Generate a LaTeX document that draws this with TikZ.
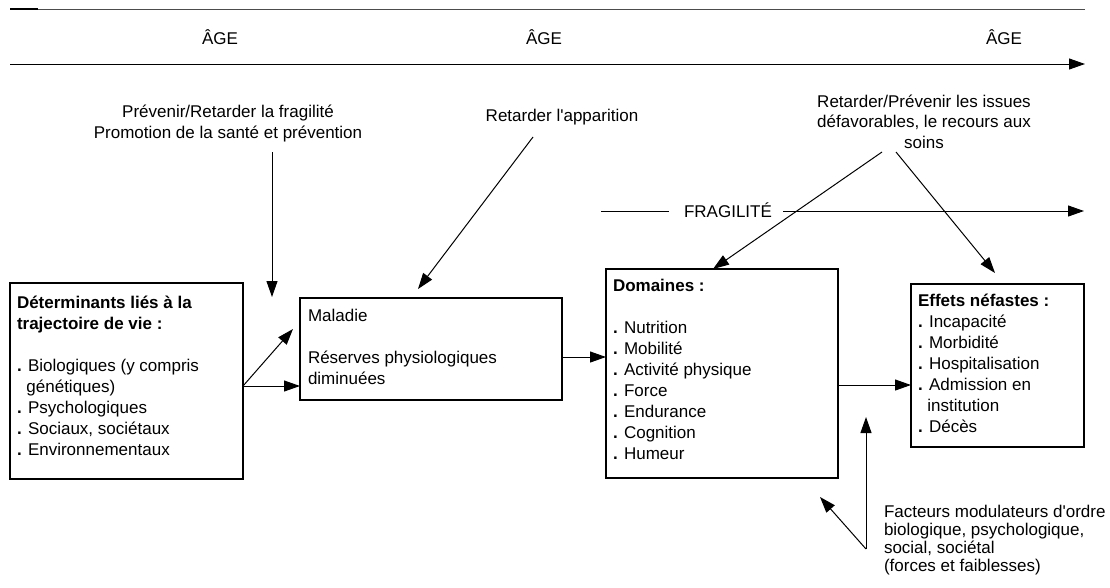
\documentclass[tikz,border=0pt]{standalone}
\usepackage{fontspec}
\setmainfont{Liberation Sans}
\usetikzlibrary{arrows.meta}
\begin{document}
\begin{tikzpicture}[x=1pt,y=-1pt,
  every node/.style={inner sep=0pt, outer sep=0pt, font=\fontsize{17}{21}\selectfont},
  box/.style={draw, line width=1.2pt, rectangle, anchor=north west},
  txt/.style={anchor=base west, align=left},
  ctr/.style={anchor=base, align=center},
  arr/.style={line width=1pt, -{Triangle[length=16pt,width=11pt]}},
  ln/.style={line width=1pt}]
\useasboundingbox (0,0) rectangle (1110,587);

% age scale at the top
\draw[line width=0.8pt, black!70] (10,9) -- (1085,9);
\draw[line width=1.4pt] (10,9) -- (38,9);
\node[ctr] (age1) at (220,44) {ÂGE};
\node[ctr] (age2) at (544,44) {ÂGE};
\node[ctr] (age3) at (1004,44) {ÂGE};
\coordinate (ageL) at (10,64);
\coordinate (ageR) at (1085,64);
\draw[arr] (ageL) -- (ageR);

% boxes
\node[box, minimum width=233pt, minimum height=196pt] (b1) at (10,283) {};
\node[box, minimum width=262pt, minimum height=102pt] (b2) at (300,298) {};
\node[box, minimum width=232pt, minimum height=209pt] (b3) at (606,269) {};
\node[box, minimum width=173pt, minimum height=163pt] (b4) at (911,284) {};

% box texts (anchored on the baseline of their last line)
\node[txt] (t1) at (17,455) {\textbf{Déterminants liés à la}\\
  \textbf{trajectoire de vie :}\\[21pt]
  \textbf{.} Biologiques (y compris\\
  \hphantom{\textbf{.}\ }génétiques)\\
  \textbf{.} Psychologiques\\
  \textbf{.} Sociaux, sociétaux\\
  \textbf{.} Environnementaux};

\node[txt] (t2) at (308,384) {Maladie\\[21pt]
  Réserves physiologiques\\
  diminuées};

\node[txt] (t3) at (613,459) {\textbf{Domaines :}\\[21pt]
  \textbf{.} Nutrition\\
  \textbf{.} Mobilité\\
  \textbf{.} Activité physique\\
  \textbf{.} Force\\
  \textbf{.} Endurance\\
  \textbf{.} Cognition\\
  \textbf{.} Humeur};

\node[txt] (t4) at (918,432) {\textbf{Effets néfastes :}\\
  \textbf{.} Incapacité\\
  \textbf{.} Morbidité\\
  \textbf{.} Hospitalisation\\
  \textbf{.} Admission en\\
  \hphantom{\textbf{.}\ }institution\\
  \textbf{.} Décès};

% flows between boxes
\coordinate (s1) at (b1.east |- 0,386);
\coordinate (d1) at (293,329);
\draw[arr] (s1) -- (s1 -| b2.west);
\draw[arr] (s1) -- (d1);
\draw[arr] (b2.east |- 0,357) -- (b3.west |- 0,357);
\draw[arr] (b3.east |- 0,385) -- (b4.west |- 0,385);

% interventions
\node[ctr] (p1) at (228,138) {Prévenir/Retarder la fragilité\\
  Promotion de la santé et prévention};
\coordinate (p1s) at (272,152);
\coordinate (p1e) at (272,297);
\draw[arr] (p1s) -- (p1e);

\node[ctr] (p2) at (562,121) {Retarder l\textquotesingle apparition};
\coordinate (p2s) at (533,137);
\coordinate (p2e) at (418,289);
\draw[arr] (p2s) -- (p2e);

\node[ctr, font=\fontsize{17}{20.5}\selectfont] (p3) at (924,148)
  {Retarder/Prévenir les issues\\ défavorables, le recours aux\\ soins};
\coordinate (p3a) at (882,152);
\coordinate (p3b) at (896,152);
\coordinate (p3e) at (995,273);
\draw[arr] (p3a) -- (b3.north -| 713,0);
\draw[arr] (p3b) -- (p3e);

% frailty axis
\node[ctr] (fr) at (728,217) {FRAGILITÉ};
\coordinate (frA) at (601,211);
\coordinate (frB) at (669,211);
\coordinate (frC) at (783,211);
\coordinate (frD) at (1084,211);
\draw[ln] (frA) -- (frB);
\draw[arr] (frC) -- (frD);

% modulating factors
\node[txt, font=\fontsize{17}{17.7}\selectfont] (p4) at (884,571)
  {Facteurs modulateurs d\textquotesingle ordre\\ biologique, psychologique,\\ social, sociétal\\ (forces et faiblesses)};
\coordinate (f0) at (866,549);
\coordinate (f1) at (866,417);
\coordinate (f2) at (820,497);
\draw[arr] (f0) -- (f1);
\draw[arr] (f0) -- (f2);
\end{tikzpicture}
\end{document}
